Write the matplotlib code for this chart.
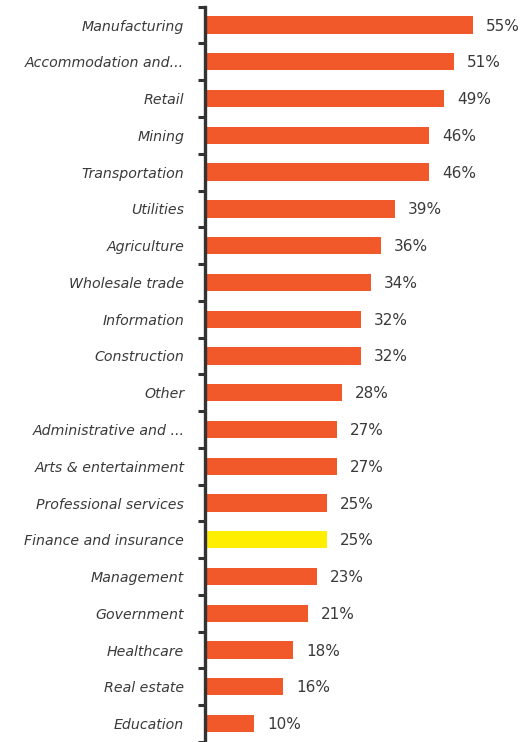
import matplotlib.pyplot as plt
from matplotlib.ticker import FixedLocator

industries = [
    "Manufacturing", "Accommodation and...", "Retail", "Mining", "Transportation",
    "Utilities", "Agriculture", "Wholesale trade", "Information", "Construction",
    "Other", "Administrative and ...", "Arts & entertainment", "Professional services",
    "Finance and insurance", "Management", "Government", "Healthcare", "Real estate",
    "Education",
]
shares = [55, 51, 49, 46, 46, 39, 36, 34, 32, 32, 28, 27, 27, 25, 25, 23, 21, 18, 16, 10]
highlight = "Finance and insurance"

ORANGE = "#F1582A"
YELLOW = "#FFEE00"

fig = plt.figure(figsize=(5.22, 7.42), dpi=100)
ax = fig.add_axes([0.393, 0.0, 0.607, 0.991])

y = list(range(len(industries)))
colors = [YELLOW if name == highlight else ORANGE for name in industries]
bars = ax.barh(y, shares, height=0.47, color=colors)

# percentage labels just past the end of each bar
for bar, val in zip(bars, shares):
    ax.annotate(f"{val}%", (bar.get_width(), bar.get_y() + bar.get_height() / 2),
                xytext=(13, -1), textcoords="offset pixels",
                va="center", ha="left", fontsize=11, color="#3a3a3a")

ax.set_ylim(len(industries) - 0.5, -0.5)
ax.set_xlim(0, 65)

ax.set_yticks(y)
ax.set_yticklabels(industries, fontsize=10.2, style="italic", color="#3a3a3a")
ax.tick_params(axis="y", which="major", length=0, pad=15)
# tick marks sit between the categories
ax.yaxis.set_minor_locator(FixedLocator([i - 0.5 for i in range(len(industries) + 1)]))
ax.tick_params(axis="y", which="minor", length=5, width=2.2, color="#333333")
ax.set_xticks([])

for side in ["top", "right", "bottom"]:
    ax.spines[side].set_visible(False)
ax.spines["left"].set_linewidth(2.4)
ax.spines["left"].set_color("#333333")

fig.savefig("out.png", dpi=100)
